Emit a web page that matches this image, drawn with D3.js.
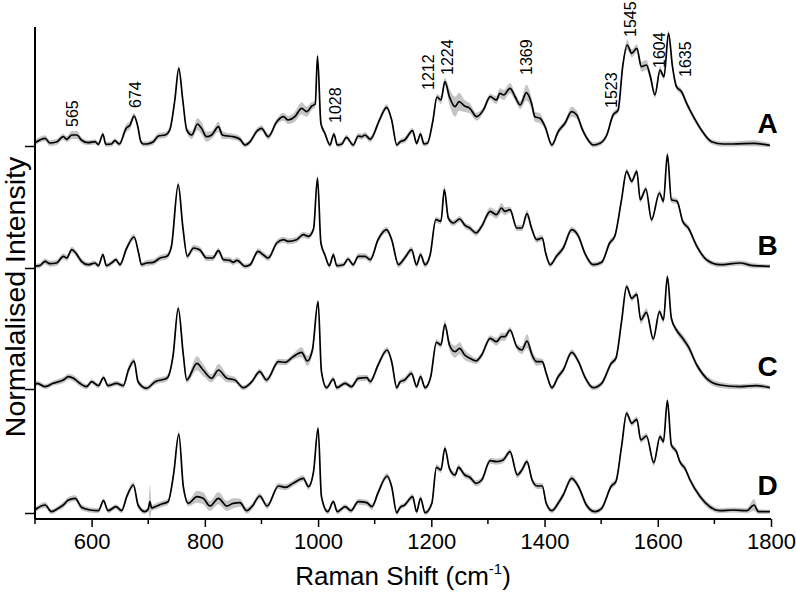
<!DOCTYPE html>
<html>
<head>
<meta charset="utf-8">
<script src="https://cdn.jsdelivr.net/npm/d3@7"></script>
<style>
  body { margin: 0; background: #fff; }
  text { font-family: Arial, "Liberation Sans", sans-serif; }
</style>
</head>
<body>
<svg id="chart" width="796" height="593"></svg>
<script>
// rows are [raman shift, mean intensity, std dev] (a.u.)
var specA = [[500,3.3,2.5],[518,7.7,3],[526,3,3],[538,4,3],[550,9.3,3],[556,6.7,3],[565,11,4],[574,11,4],[582,6,3],[594,3.3,2.5],[606,4.3,2.5],[612,1.7,2.5],[620,11.7,2.5],[625,1.7,2.5],[635,2,2.5],[641,5.3,2.5],[649,2,2.5],[661,17.7,4],[668,21,4],[675,30,3],[681,21,3],[687,4.3,2.5],[691,2,2.5],[697,2,2.5],[709,4.3,3],[718,10,3],[730,11,3],[738,16,3],[747,46,3],[754,77.7,3],[761,46,3],[768,16,3],[777,11,4],[787,22,6],[794,17.7,6],[803,9.3,5],[812,11,4],[824,19.3,5],[831,11,4],[841,10,3],[850,9.3,3],[862,6.7,3],[871,1,2.5],[880,4.3,2.5],[891,14.3,3],[900,17.7,3],[912,9.3,3],[927,24.3,3],[939,29.3,4],[947,26,4],[959,29.3,5],[971,37.7,6],[980,34.3,5],[989,40,4],[995,42,3],[999,90,3],[1005,22.7,3],[1012,12.7,2.5],[1021,1,2.5],[1028,12,2.5],[1034,1,2.5],[1042,2,2.5],[1050,8.7,2.5],[1062,1,2.5],[1071,10,3],[1077,9.3,3],[1083,11,3],[1092,6.7,3],[1109,26.7,3],[1121,38.7,3],[1130,26,3],[1139,1,2.5],[1145,4.3,2.5],[1153,6,3],[1167,15.3,3],[1174,2.7,2.5],[1181,12,3],[1187,2,2.5],[1193,2.7,2.5],[1203,26,3],[1210,49,3],[1217,46,4],[1224,64.3,4],[1232,49.3,8],[1242,39.3,10],[1249,44.3,9],[1259,40,6],[1268,37.7,5],[1280,29.3,4],[1292,36,3],[1304,49.3,3],[1315,46,4],[1321,52.7,5],[1328,51,5],[1339,57.7,5],[1348,49.3,4],[1357,41,4],[1368,53.3,8],[1377,42.7,6],[1383,29.3,5],[1392,27.7,5],[1401,19.3,3],[1413,1,2.5],[1424,14.3,3],[1436,22.7,3],[1448,34.3,5],[1457,31,4],[1466,17.7,3],[1477,6,2.5],[1486,1,2.5],[1498,2.7,2.5],[1510,11,2.5],[1521,31,3],[1530,36,3],[1538,79.3,3],[1546,101,5],[1554,92.7,4],[1563,97.7,4],[1571,79.3,5],[1580,81,5],[1587,69.3,4],[1595,51,3],[1604,76,4],[1611,69.3,3],[1619,112.7,3],[1626,79.3,3],[1633,59.3,3],[1642,54.3,3],[1651,42.7,3],[1663,29.3,3],[1677,16,2.5],[1695,4.3,2.5],[1716,2,2.5],[1733,2,2.5],[1769,2.7,3],[1798,0.7,2]]

var specB = [[500,2,2.5],[508,2.3,2.5],[518,6.7,3],[526,4.3,3],[538,5,3],[550,11.7,3],[556,10,3],[565,18.3,3],[572,15,3],[582,6.7,3],[594,3.3,2.5],[606,5,2.5],[612,2.3,2.5],[620,13.3,2.5],[626,2.3,2.5],[635,5,2.5],[643,8.3,2.5],[650,3.3,2.5],[662,20,3],[675,31,3],[683,15,3],[688,3.3,2.5],[697,5,3],[709,5.7,3],[721,10,3],[733,11.7,3],[741,21.7,3],[753,83.3,3],[761,41.7,3],[769,11.7,3],[780,20,3],[791,18.3,3],[803,10,3],[814,10,3],[824,17.3,3],[833,8.3,3],[844,7.7,3],[850,5.7,3],[857,7.7,3],[871,1.7,2.5],[880,3.3,2.5],[894,16.7,3],[903,13.3,3],[912,10,3],[927,25,3],[939,28.3,3],[947,26.7,3],[962,28.3,3],[974,33.3,3],[983,31.7,3],[992,39,3],[999,90,3],[1005,25,3],[1012,13.3,2.5],[1020,2.3,2.5],[1027,13.3,2.5],[1033,2.3,2.5],[1045,3.3,2.5],[1053,9,2.5],[1062,3.3,2.5],[1071,11.7,3],[1083,11.7,3],[1092,8.3,3],[1106,28.3,3],[1121,38.3,3],[1130,28.3,3],[1142,3.3,3],[1153,10,3],[1165,18.3,3],[1174,3.3,3],[1181,13.3,3],[1189,3.3,3],[1198,13.3,3],[1208,48.3,3],[1217,46.7,3],[1223,78.3,4],[1230,50,3],[1239,45,3],[1250,49,3],[1260,42.3,3],[1268,40,3],[1279,35,3],[1289,41.7,3],[1304,56.7,4],[1315,53.3,4],[1324,60,5],[1330,56.7,4],[1339,58.3,3],[1351,40,3],[1360,40,3],[1369,54.3,4],[1377,40,3],[1386,28.3,3],[1396,30,3],[1402,15,3],[1410,3.3,2.5],[1421,11.7,3],[1433,20,3],[1448,38.3,3],[1460,31.7,3],[1471,15,3],[1486,3.3,2.5],[1501,5.7,2.5],[1515,25,3],[1524,31.7,3],[1536,68.3,3],[1545,96.7,3],[1554,86.7,3],[1563,96.7,3],[1569,68.3,3],[1579,79,3],[1589,48.3,3],[1603,75,3],[1610,66.7,3],[1617,113.3,3],[1624,68.3,3],[1634,66.7,3],[1644,46.7,3],[1654,40,3],[1669,21.7,3],[1686,8.3,2.5],[1710,3.3,2.5],[1745,5,2.5],[1769,2.3,2.5],[1798,1.7,2]]

var specC = [[500,4,2.5],[504,5.7,2.5],[518,2.3,2.5],[532,5.7,2.5],[550,9,3],[559,12.3,3],[568,10.7,3],[579,5.7,3],[591,2.3,2.5],[600,7.3,2.5],[612,3.3,2.5],[621,11.3,2.5],[629,3.3,2.5],[644,5.7,2.5],[656,3.3,2.5],[665,19,4],[675,28,3],[682,7.3,3],[697,0.7,2.5],[712,7.3,3],[733,10.7,3],[744,34,3],[753,80.7,3],[762,34,3],[768,9,3],[786,25.7,7],[797,19,6],[812,10.7,4],[824,19,6],[839,10.7,4],[853,9,3],[868,1.3,2.5],[883,7.3,2.5],[897,17.3,3],[909,9,3],[930,27.3,3],[942,26.7,3],[956,32.3,3],[971,36.7,5],[981,28,5],[990,39,4],[1000,87.3,3],[1006,17.3,3],[1015,1.3,2.5],[1027,10,2.5],[1033,1.3,2.5],[1048,5.7,2.5],[1059,2.3,2.5],[1071,10.7,3],[1086,11.3,3],[1092,7.3,3],[1106,24,3],[1122,39,3],[1130,27.3,3],[1139,1.3,2.5],[1145,7.3,2.5],[1153,9,3],[1165,15.7,3],[1174,2.3,2.5],[1181,12.3,3],[1189,1.3,2.5],[1199,12.3,3],[1209,46.7,3],[1217,44,3],[1224,64.7,4],[1232,44,5],[1242,37.3,6],[1250,40.7,6],[1259,34,5],[1268,30.7,4],[1279,28,3],[1289,34,3],[1304,50.7,3],[1315,47.3,4],[1324,52.3,4],[1330,52.3,4],[1339,59,3],[1351,42.3,3],[1360,39,4],[1369,48,7],[1378,34,5],[1386,27.3,4],[1396,27.3,3],[1403,15.7,3],[1413,1.3,2.5],[1424,12.3,3],[1433,19,3],[1448,36.7,3],[1460,27.3,3],[1471,12.3,3],[1486,1.3,2.5],[1501,5.7,2.5],[1518,25.7,3],[1526,30.7,3],[1536,67.3,3],[1545,102.3,3],[1554,90.7,3],[1563,94.7,3],[1570,69,4],[1580,76.7,4],[1592,50,3],[1603,77.3,3],[1610,69,3],[1617,112.3,3],[1624,70.7,3],[1633,59,3],[1644,50.7,4],[1654,42.3,4],[1669,24,3],[1686,10.7,3],[1710,4,3],[1745,2.3,2.5],[1774,3.3,2.5],[1798,1.3,2]]

var specD = [[500,3,2.5],[504,4.7,2.5],[518,8,3],[529,1.3,2.5],[541,4.7,2.5],[550,8,3],[559,13,3],[571,14.7,3],[582,5.7,3],[597,3,2.5],[612,2.3,2.5],[621,12.3,2.5],[629,2.3,2.5],[643,6.3,2.5],[653,2.3,2.5],[662,16.3,3],[674,28,3],[682,8,3],[694,1.3,2.5],[700,4,3],[703,11.3,17],[706,5,3],[712,6.3,3],[724,9,3],[735,11.3,3],[745,39.7,3],[754,79,3],[762,26.3,3],[771,9.7,3],[786,16.3,6],[797,14.7,6],[809,7,5],[824,14.7,6],[839,7,5],[850,9.7,5],[862,10.3,4],[874,2.3,3],[884,7,3],[897,17,3],[910,7,3],[930,27,3],[942,25.7,3],[956,29.7,3],[974,34.7,3],[983,26.3,3],[992,41.3,3],[1000,84.7,3],[1006,16.3,3],[1017,1.3,2.5],[1027,11.3,2.5],[1034,1.3,2.5],[1048,6.3,2.5],[1058,2.3,2.5],[1071,11.3,3],[1086,10.3,3],[1095,6.3,3],[1106,20.3,3],[1122,37,3],[1130,26.3,3],[1139,0.3,2.5],[1145,5.7,2.5],[1153,8,2.5],[1167,16.3,3],[1174,1.3,2.5],[1181,14.7,3],[1189,0.3,2.5],[1201,9.7,3],[1209,45.7,3],[1217,43,3],[1224,64.7,3],[1232,44.7,3],[1242,38,3],[1248,45.7,3],[1259,38,3],[1268,35.7,3],[1279,29.7,3],[1289,33,3],[1304,52.3,3],[1315,51.3,3],[1327,53,3],[1339,61.3,3],[1352,38,3],[1360,43,3],[1369,51.3,3],[1378,33,3],[1387,27,3],[1396,27,3],[1403,9.7,3],[1413,2.3,2.5],[1424,9.7,3],[1433,18,3],[1448,34.7,3],[1460,26.3,3],[1474,8,3],[1489,1.3,2.5],[1501,4.7,2.5],[1518,27,3],[1526,31.3,3],[1536,66.3,3],[1545,99.7,3],[1554,89.7,3],[1563,93.7,3],[1570,73,3],[1580,77,3],[1593,50.3,3],[1604,76.3,3],[1610,71.3,3],[1617,112.3,3],[1624,68,3],[1633,61.3,3],[1639,51.3,3],[1648,44.7,3],[1657,33,3],[1675,16.3,3],[1692,6.3,3],[1710,2.3,2.5],[1733,3,2.5],[1757,2.3,2.5],[1770,8,6],[1778,1.3,2.5],[1798,1.3,2]]

var seriesNames = ["A", "B", "C", "D"]
var seriesOffsets = [367, 245, 124, 0]   // vertical stacking of the traces
var xTicks = [600, 800, 1000, 1200, 1400, 1600, 1800]
var xMinorTicks = [500, 700, 900, 1100, 1300, 1500, 1700]

// peak assignments written on trace A
var peakText = ["565", "674", "1028", "1212", "1224", "1369", "1523", "1545", "1604", "1635"]
var peakAt = [565, 677, 1030, 1194, 1227, 1368, 1517, 1551, 1603, 1648]
var peakLift = [19, 38, 23, 56, 71, 71, 38, 109, 78, 69]

var svg = d3.select("#chart")

var x = d3.scaleLinear().domain([500, 1800]).range([35, 771])
var y = d3.scaleLinear().domain([-6, 486]).range([519, 27])

var allSpectra = [specA, specB, specC, specD]

var g = svg.append("g")

allSpectra.forEach(function(spec, i) {
    var off = seriesOffsets[i]

    var band = d3.area()
        .x(function(d) { return x(d[0]) })
        .y0(function(d) { return y(off + d[1] - d[2]) })
        .y1(function(d) { return y(off + d[1] + d[2]) })
        .curve(d3.curveMonotoneX)

    var line = d3.line()
        .x(function(d) { return x(d[0]) })
        .y(function(d) { return y(off + d[1]) })
        .curve(d3.curveMonotoneX)

    g.append("path")
        .datum(spec)
        .attr("d", band)
        .style("fill", "#c4c4c4")
        .style("stroke", "none")

    g.append("path")
        .datum(spec)
        .attr("d", line)
        .style("fill", "none")
        .style("stroke", "#000")
        .style("stroke-width", 1.7)
        .style("stroke-linejoin", "round")

    g.append("text")
        .attr("x", x(1812))
        .attr("y", y(off + (i == 3 ? 18 : 13)))
        .attr("text-anchor", "end")
        .style("font-size", "28px")
        .style("font-weight", "bold")
        .text(seriesNames[i])
})

// peak labels
peakText.forEach(function(t, i) {
    var px = x(peakAt[i]) + 6
    var py = y(seriesOffsets[0] + peakLift[i])
    g.append("text")
        .attr("transform", "translate(" + px + "," + py + ") rotate(-90)")
        .attr("text-anchor", "start")
        .style("font-size", "16px")
        .text(t)
})

// x axis
var xAxis = d3.axisBottom(x).tickValues(xTicks).tickSize(8).tickPadding(6).tickFormat(d3.format("d"))
var xa = svg.append("g").attr("transform", "translate(0,519)").call(xAxis)
xa.select(".domain").attr("d", "M" + x(500) + ",0H" + x(1800)).style("stroke-width", 2)
xa.selectAll(".tick line").style("stroke-width", 1.5)
xa.selectAll(".tick text").style("font-size", "22px").style("font-family", "Arial, 'Liberation Sans', sans-serif")

xa.selectAll(".minor")
    .data(xMinorTicks)
    .enter().append("line")
    .attr("class", "minor")
    .attr("x1", function(d) { return x(d) })
    .attr("x2", function(d) { return x(d) })
    .attr("y1", 0)
    .attr("y2", 5)
    .style("stroke", "#000")
    .style("stroke-width", 1.5)

// y axis: one tick on each trace baseline, no labels
var yAxis = d3.axisLeft(y).tickValues(seriesOffsets).tickSize(10).tickFormat("")
var ya = svg.append("g").attr("transform", "translate(35,0)").call(yAxis)
ya.select(".domain").attr("d", "M0," + y(486) + "V" + y(-6)).style("stroke-width", 2)
ya.selectAll(".tick line").style("stroke-width", 1.5)

// axis titles
var xt = svg.append("text")
    .attr("x", 403)
    .attr("y", 585)
    .attr("text-anchor", "middle")
    .style("font-size", "26px")
xt.append("tspan").text("Raman Shift (cm")
xt.append("tspan").attr("dy", -11).style("font-size", "15px").text("-1")
xt.append("tspan").attr("dy", 11).text(")")

svg.append("text")
    .attr("transform", "translate(25,297) rotate(-90)")
    .attr("text-anchor", "middle")
    .style("font-size", "28.5px")
    .text("Normalalised Intensity")
</script>
</body>
</html>
